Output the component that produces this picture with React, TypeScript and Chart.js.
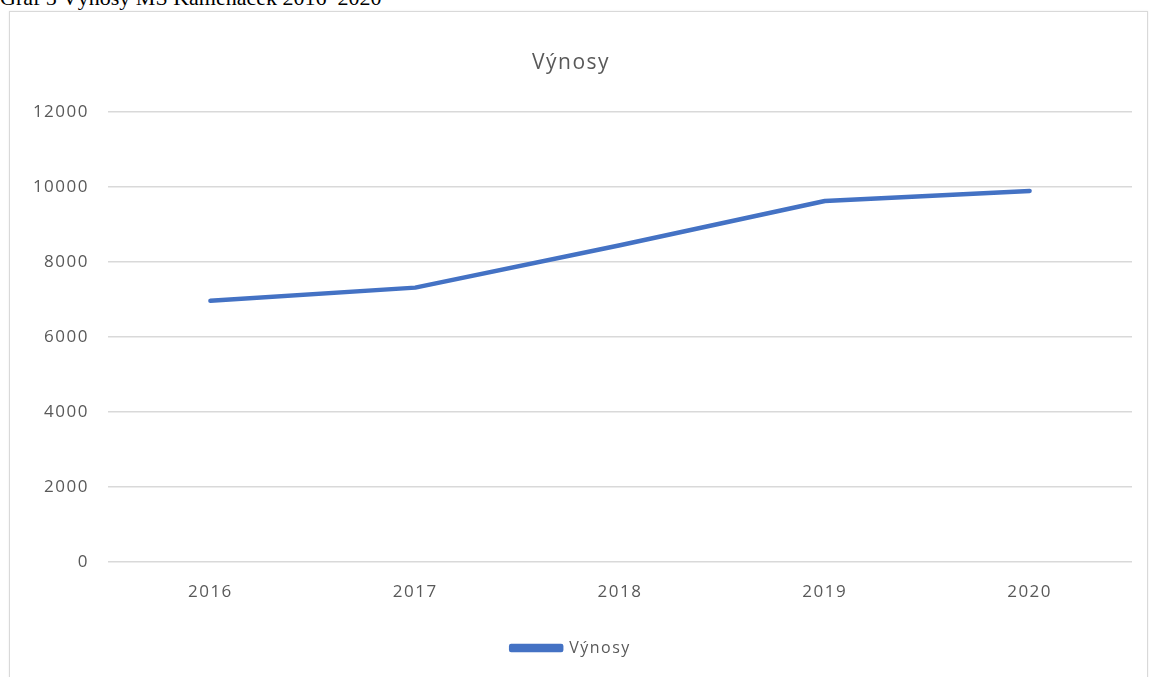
import React, { useEffect, useRef } from "react";
import { Chart, registerables } from "chart.js";

Chart.register(...registerables);

const categories = ["2016", "2017", "2018", "2019", "2020"];
const seriesName = "Výnosy";
const seriesValues = [6970, 7320, 8450, 9630, 9900];
const chartTitle = "Výnosy";
const caption = "Graf 5 Výnosy MŠ Kameňáček 2016–2020";
const yMin = 0;
const yMax = 12000;
const yStep = 2000;

const letterSpacingPlugin = {
  id: "letterSpacing",
  beforeDraw(chart: any) {
    (chart.ctx as any).letterSpacing = "1.5px";
  },
  beforeLayout(chart: any) {
    (chart.ctx as any).letterSpacing = "1.5px";
  },
};

export default function App() {
  const ref = useRef<HTMLCanvasElement | null>(null);

  useEffect(() => {
    if (!ref.current) return;
    const gray = "#595959";
    const font = "'Open Sans', sans-serif";
    const chart = new Chart(ref.current, {
      type: "line",
      data: {
        labels: categories,
        datasets: [
          {
            label: seriesName,
            data: seriesValues,
            borderColor: "#4472C4",
            backgroundColor: "#4472C4",
            borderWidth: 4.5,
            pointRadius: 0,
            tension: 0,
            borderCapStyle: "round",
            borderJoinStyle: "round",
          },
        ],
      },
      options: {
        animation: false,
        responsive: false,
        layout: { padding: { left: 0, right: 15, top: 0, bottom: 11 } },
        plugins: {
          title: {
            display: true,
            text: chartTitle,
            color: gray,
            font: { family: font, size: 21, weight: "normal" },
            padding: { top: 38, bottom: 37 },
          },
          legend: {
            display: true,
            position: "bottom",
            labels: {
              color: gray,
              font: { family: font, size: 16 },
              boxWidth: 50,
              boxHeight: 4,
              padding: 10,
            },
          },
          tooltip: { enabled: false },
        },
        scales: {
          x: {
            offset: true,
            grid: { display: false, drawTicks: false },
            border: { display: false },
            ticks: { color: gray, font: { family: font, size: 17 }, padding: 20 },
            afterFit: (s: any) => {
              s.height = 68;
            },
          },
          y: {
            min: yMin,
            max: yMax,
            grid: { color: "#d9d9d9", lineWidth: 1.5, drawTicks: false },
            border: { display: false },
            ticks: {
              stepSize: yStep,
              color: gray,
              font: { family: font, size: 17 },
              padding: 19,
              callback: (v: any) => String(v),
            },
            afterFit: (s: any) => {
              s.width = 98;
            },
          },
        },
      },
      plugins: [letterSpacingPlugin],
    } as any);
    return () => chart.destroy();
  }, []);

  return (
    <div style={{ position: "fixed", inset: 0, background: "#fff", overflow: "hidden" }}>
      <div
        style={{
          position: "absolute",
          left: 0,
          top: -13,
          fontFamily: "'Liberation Serif', 'Times New Roman', serif",
          fontSize: 22,
          lineHeight: "22px",
          whiteSpace: "nowrap",
          color: "#000",
        }}
      >
        {caption}
      </div>
      <div
        style={{
          position: "absolute",
          left: 9,
          top: 11,
          width: 1137,
          height: 700,
          border: "1px solid #d9d9d9",
          boxShadow: "0 0 2px rgba(0,0,0,0.08)",
          background: "#fff",
        }}
      >
        <canvas ref={ref} width={1137} height={665} style={{ display: "block" }} />
      </div>
    </div>
  );
}
